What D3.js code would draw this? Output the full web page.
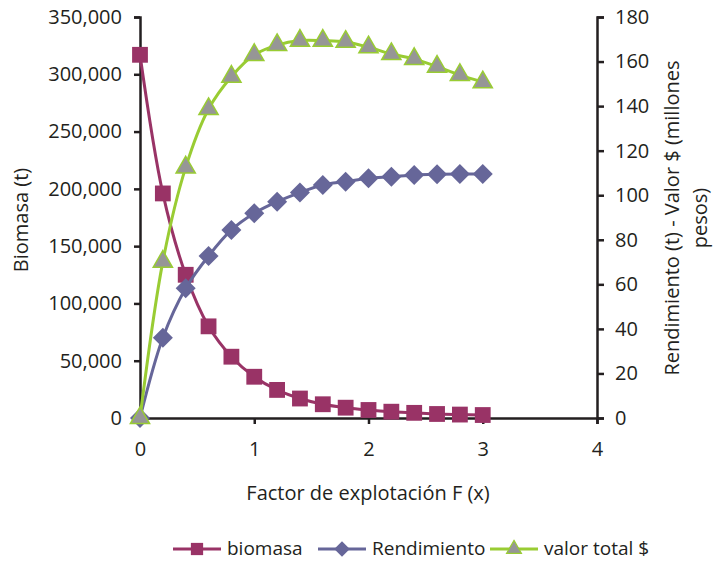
<!DOCTYPE html>
<html>
<head>
<meta charset="utf-8">
<script src="https://cdn.jsdelivr.net/npm/d3@7"></script>
<style>
  body { margin: 0; background: #fff; }
  text { font-family: "Open Sans", sans-serif; fill: #231f20; }
</style>
</head>
<body>
<div id="chart"></div>
<script>
// factor de explotacion F
let factorF = [0, 0.2, 0.4, 0.6, 0.8, 1.0, 1.2, 1.4, 1.6, 1.8, 2.0, 2.2, 2.4, 2.6, 2.8, 3.0];
let biomasa = [317000, 196000, 125000, 80000, 53500, 36000, 24500, 17000, 12000, 9000, 7000, 5500, 4500, 3500, 3000, 2600];
let rendimiento = [0, 36, 58.2, 72.7, 84.4, 91.9, 97.1, 101.2, 104.6, 106.1, 107.6, 108.3, 109.1, 109.4, 109.5, 109.5];
let valorTotal = [0, 70.2, 112.5, 138.7, 153.2, 163, 167.4, 169.4, 169.4, 168.9, 166.4, 163.4, 161.2, 157.7, 154, 150.7];

let xTicks = [0, 1, 2, 3, 4];
let yLeftTicks = [0, 50000, 100000, 150000, 200000, 250000, 300000, 350000];
let yRightTicks = [0, 20, 40, 60, 80, 100, 120, 140, 160, 180];

let larg = 715;
let alt = 561;

let canvas = d3.select("#chart")
    .append("svg")
    .attr("width", larg)
    .attr("height", alt);

let escX = d3.scaleLinear().domain([0, 4]).range([140, 597]);
let escY1 = d3.scaleLinear().domain([0, 350000]).range([418, 17]);
let escY2 = d3.scaleLinear().domain([0, 180]).range([418, 17]);

let corEixo = "#231f20";

// eixos
let eixoX = canvas.append("g")
    .attr("transform", "translate(0,418)")
    .call(d3.axisBottom(escX).tickValues(xTicks).tickSize(6).tickPadding(18).tickFormat(d3.format("d")));

let eixoY1 = canvas.append("g")
    .attr("transform", "translate(140,0)")
    .call(d3.axisLeft(escY1).tickValues(yLeftTicks).tickSize(6).tickPadding(12).tickFormat(d3.format(",")));

let eixoY2 = canvas.append("g")
    .attr("transform", "translate(597,0)")
    .call(d3.axisRight(escY2).tickValues(yRightTicks).tickSize(7).tickPadding(11).tickFormat(d3.format("d")));

[eixoX, eixoY1, eixoY2].forEach(function(g) {
    g.select(".domain").attr("stroke", corEixo).attr("stroke-width", 2.5);
    g.selectAll(".tick line").attr("stroke", corEixo).attr("stroke-width", 2.5);
    g.selectAll(".tick text")
        .style("font", "20px 'Open Sans', sans-serif")
        .attr("fill", corEixo);
});

// titulos
canvas.append("text")
    .attr("transform", "translate(28,220) rotate(-90)")
    .attr("text-anchor", "middle")
    .style("font-size", "20px")
    .text("Biomasa (t)");

canvas.append("text")
    .attr("x", 368)
    .attr("y", 500)
    .attr("text-anchor", "middle")
    .style("font-size", "20px")
    .text("Factor de explotación F (x)");

let tituloDir = canvas.append("text")
    .attr("transform", "translate(679,218) rotate(-90)")
    .attr("text-anchor", "middle")
    .style("font-size", "20px");
tituloDir.append("tspan").attr("x", 0).attr("dy", 0).text("Rendimiento (t) - Valor $ (millones");
tituloDir.append("tspan").attr("x", 0).attr("dy", 28).text("pesos)");

// series
let series = [
    {nome: "biomasa", valores: biomasa, esc: escY1, cor: "#993366", forma: d3.symbolSquare, tam: 250, giro: 0, fill: "#993366", borda: "none"},
    {nome: "Rendimiento", valores: rendimiento, esc: escY2, cor: "#666699", forma: d3.symbolSquare, tam: 200, giro: 45, fill: "#666699", borda: "none"},
    {nome: "valor total $", valores: valorTotal, esc: escY2, cor: "#99cc33", forma: d3.symbolTriangle, tam: 160, giro: 0, fill: "#969696", borda: "#99cc33"}
];

series.forEach(function(s) {
    let pts = factorF.map((f, i) => [escX(f), s.esc(s.valores[i])]);
    let linha = d3.line().curve(d3.curveCatmullRom.alpha(0.5));
    canvas.append("path")
        .attr("d", linha(pts))
        .attr("fill", "none")
        .attr("stroke", s.cor)
        .attr("stroke-width", 3);
    canvas.append("g").selectAll("path")
        .data(pts)
        .enter()
            .append("path")
            .attr("transform", (d) => "translate(" + d[0] + "," + d[1] + ") rotate(" + s.giro + ")")
            .attr("d", d3.symbol().type(s.forma).size(s.tam))
            .attr("fill", s.fill)
            .attr("stroke", s.borda)
            .attr("stroke-width", 1.5);
});

// legenda
let legX = [173, 318, 490];
series.forEach(function(s, i) {
    let g = canvas.append("g").attr("transform", "translate(" + legX[i] + ",549)");
    g.append("line")
        .attr("x1", 0).attr("x2", 48)
        .attr("stroke", s.cor)
        .attr("stroke-width", 3);
    g.append("path")
        .attr("transform", "translate(24,0) rotate(" + s.giro + ")")
        .attr("d", d3.symbol().type(s.forma).size(s.tam * 0.6))
        .attr("fill", s.fill)
        .attr("stroke", s.borda)
        .attr("stroke-width", 1.2);
    g.append("text")
        .attr("x", 54)
        .attr("y", 6)
        .style("font-size", "19px")
        .text(s.nome);
});
</script>
</body>
</html>
